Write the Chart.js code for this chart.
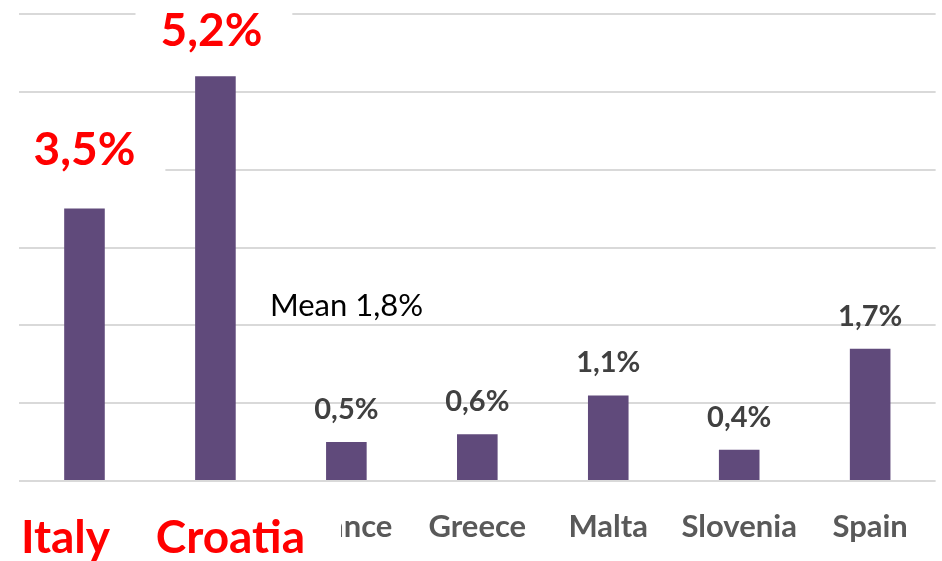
<!DOCTYPE html>
<html>
<head>
<meta charset="utf-8">
<script src="https://cdn.jsdelivr.net/npm/chart.js@4/dist/chart.umd.min.js"></script>
<style>
  html, body { margin: 0; padding: 0; background: #ffffff; }
  canvas { display: block; }
</style>
</head>
<body>
<canvas id="c" width="942" height="561"></canvas>
<script>
const categories = ['Italy', 'Croatia', 'France', 'Greece', 'Malta', 'Slovenia', 'Spain'];
const values = [3.5, 5.2, 0.5, 0.6, 1.1, 0.4, 1.7];
const highlighted = ['Italy', 'Croatia'];
const meanLabel = 'Mean 1,8%';
const meanValue = 1.8;
const yMin = 0;
const yMax = 6;
const yStep = 1;

const FONT = 'Lato, "Open Sans", sans-serif';
const RED = '#ff0000';
const BAR = '#604a7b';
const AXIS_GRAY = '#595959';
const LABEL_GRAY = '#404040';

const fmt = v => v.toFixed(1).replace('.', ',') + '%';
const isHi = i => highlighted.includes(categories[i]);

const barLabels = {
  id: 'barLabels',
  afterDatasetsDraw(chart, args, opts) {
    const ctx = chart.ctx;
    const meta = chart.getDatasetMeta(0);
    ctx.save();
    meta.data.forEach((bar, i) => {
      const txt = fmt(values[i]);
      const hi = isHi(i);
      const off = opts.offsets[i];
      ctx.font = (hi ? 'bold 46px ' : 'bold 29px ') + FONT;
      ctx.textAlign = 'center';
      ctx.textBaseline = 'alphabetic';
      const y = bar.y - off;
      const x = bar.x + opts.shifts[i];
      if (hi) {
        const w = ctx.measureText(txt).width;
        ctx.fillStyle = '#ffffff';
        ctx.fillRect(x - w / 2 - 25, y - 52, w + 55, 66);
      }
      ctx.fillStyle = hi ? RED : LABEL_GRAY;
      ctx.fillText(txt, x, y);
    });
    // mean annotation
    const xs = chart.scales.x, ys = chart.scales.y;
    ctx.font = '31px ' + FONT;
    ctx.textAlign = 'left';
    ctx.fillStyle = '#000000';
    const mx = (xs.getPixelForValue(1) + xs.getPixelForValue(2)) / 2 - 11;
    ctx.fillText(meanLabel, mx, ys.getPixelForValue(meanValue) - 25);
    ctx.restore();
  },
  afterDraw(chart, args, opts) {
    // highlighted category labels sit on a white box that covers neighbours
    const ctx = chart.ctx;
    const xs = chart.scales.x;
    ctx.save();
    categories.forEach((c, i) => {
      if (!isHi(i)) return;
      ctx.font = 'bold 46px ' + FONT;
      const w = ctx.measureText(c).width;
      const x0 = xs.getPixelForTick(i);
      const x = x0 + opts.tickShifts[i];
      const left = Math.min(x0, x) - w / 2 - 10;
      const right = Math.max(x0, x) + w / 2 + 36;
      ctx.fillStyle = '#ffffff';
      ctx.fillRect(left, xs.top + 20, right - left, chart.height - xs.top - 20);
      ctx.fillStyle = RED;
      ctx.textAlign = 'center';
      ctx.textBaseline = 'middle';
      ctx.fillText(c, x, xs.top + 34 + 23);
    });
    ctx.restore();
  }
};

new Chart(document.getElementById('c'), {
  type: 'bar',
  data: {
    labels: categories,
    datasets: [{
      data: values,
      backgroundColor: BAR,
      borderWidth: 0,
      barPercentage: 0.31,
      categoryPercentage: 1.0
    }]
  },
  options: {
    responsive: false,
    animation: false,
    devicePixelRatio: 1,
    layout: { padding: { left: 19, right: 2, top: 14, bottom: -34 } },
    plugins: {
      legend: { display: false },
      tooltip: { enabled: false },
      barLabels: {
        offsets: [44, 30, 23, 23, 23, 23, 23],
        shifts: [0, -4, 0, 0, 0, 0, 0],
        tickShifts: [-19, 15, 0, 0, 0, 0, 0]
      }
    },
    scales: {
      x: {
        grid: { display: false, drawTicks: false },
        border: { display: false },
        ticks: {
          padding: 34,
          maxRotation: 0,
          autoSkip: false,
          color: ctx => isHi(ctx.index) ? RED : AXIS_GRAY,
          font: ctx => isHi(ctx.index)
            ? { family: FONT, size: 46, weight: 'bold', lineHeight: 46 / 46 }
            : { family: FONT, size: 31, weight: 'bold', lineHeight: 24 / 31 }
        }
      },
      y: {
        min: yMin,
        max: yMax,
        ticks: { display: false, stepSize: yStep },
        grid: { color: '#d9d9d9', lineWidth: 2, drawTicks: false },
        border: { display: false }
      }
    }
  },
  plugins: [barLabels]
});
</script>
</body>
</html>
